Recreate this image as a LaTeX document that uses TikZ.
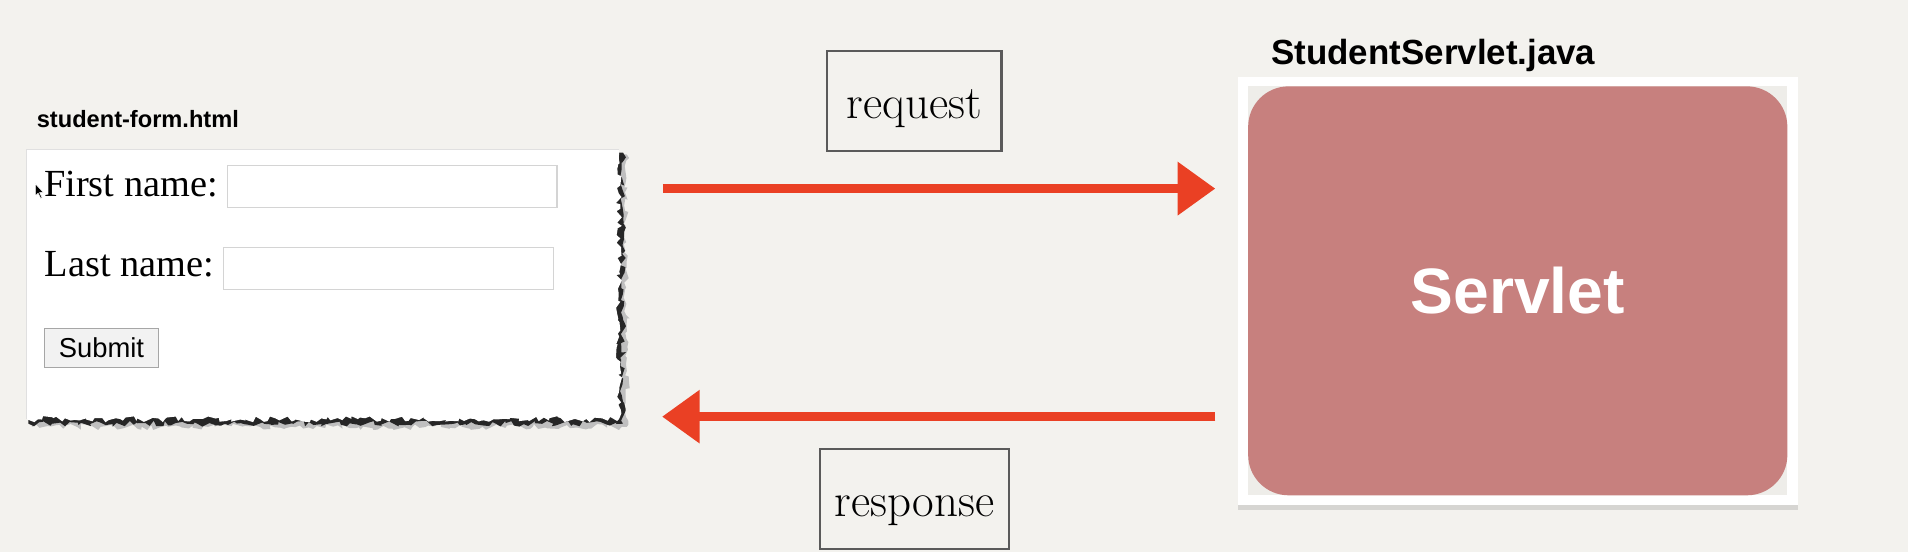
\documentclass[tikz,border=0pt]{standalone}
\usepackage{fontspec}
\usepackage{tikz}
\usetikzlibrary{arrows.meta,positioning,shadows,decorations.pathmorphing}
\newfontfamily\arialfont{Liberation Sans}
\newfontfamily\timesfont{Liberation Serif}
\definecolor{paper}{RGB}{243,242,238}
\definecolor{mat}{RGB}{238,237,233}
\definecolor{rosewood}{RGB}{199,128,126}
\definecolor{crayon}{RGB}{234,64,36}
\definecolor{pencil}{RGB}{90,90,90}
\definecolor{fieldline}{RGB}{212,212,212}

\begin{document}
\begin{tikzpicture}[x=0.025cm,y=-0.025cm,
    tag/.style={anchor=base west,inner sep=0pt,font=\arialfont\bfseries},
    msgbox/.style={draw=pencil,line width=1.2pt,minimum width=#1,minimum height=2.06cm,inner sep=0pt,
      font=\fontsize{27.5}{30}\selectfont,text height=22pt,text depth=2pt},
    formlabel/.style={anchor=base west,inner sep=0pt,font=\timesfont\fontsize{22.4}{26}\selectfont},
    field/.style={draw=fieldline,line width=0.7pt,fill=white,anchor=north west,inner sep=0pt,
      minimum width=6.77cm,minimum height=0.86cm},
    flow/.style={draw=crayon,line width=5.2pt,-{Triangle[length=22pt,width=30pt]}},
    tear/.style={decoration={random steps,segment length=2.5pt,amplitude=1.8pt}}]
    \path[use as bounding box,fill=paper] (0,0) rectangle (1568,454);

    % the html form, torn on two sides
    \node[anchor=north west,inner sep=0pt,minimum width=12.15cm,minimum height=5.53cm] (form) at (22,122.7) {};
    \pgfmathsetseed{4}
    \fill[black!25] ([yshift=-3pt]form.north west) -- ([xshift=4.5pt,yshift=-3pt]form.north east)
      decorate[tear]{-- ([xshift=4.5pt,yshift=-4.5pt]form.south east) -- ([xshift=3pt,yshift=-4.5pt]form.south west)} -- cycle;
    \fill[black!85] ([yshift=-2pt]form.north west) -- ([xshift=2.4pt,yshift=-2pt]form.north east)
      decorate[tear]{-- ([xshift=2.4pt,yshift=-2.6pt]form.south east) -- ([xshift=1pt,yshift=-2.6pt]form.south west)} -- cycle;
    \fill[white] (form.north west) -- (form.north east)
      decorate[tear]{-- (form.south east) -- (form.south west)} -- cycle;
    \draw[black!12,line width=0.5pt] (form.south west) -- (form.north west) -- (form.north east);
    \node[tag,font=\arialfont\bfseries\fontsize{13.8}{16}\selectfont] (formname) at ([xshift=0.2cm,yshift=0.44cm]form.north west) {student-form.html};

    \node[formlabel] (fname) at (36,161.6) {First name:};
    \node[field] (ffield) at (186.4,135.6) {};
    \node[formlabel] (lname) at (36.5,227.4) {Last name:};
    \node[field] (lfield) at (183.3,202.7) {};
    \node[draw=black!35,fill=black!5,inner sep=0pt,minimum width=2.34cm,minimum height=0.8cm,
      font=\arialfont\fontsize{16}{18}\selectfont] (submit) at (83.4,285.9) {Submit};
    \fill[black,draw=white,line width=0.3pt] (29,151) -- (29,161) -- (31.3,158.8) -- (33.5,163)
      -- (34.6,162.4) -- (32.5,158.3) -- (35.5,158) -- cycle;

    % the servlet
    \node[fill=white,inner sep=0pt,minimum width=11.5cm,minimum height=8.8cm,
      drop shadow={shadow xshift=0pt,shadow yshift=-3pt,opacity=0.25}] (frame) at (1247.3,239) {};
    \node[fill=mat,inner sep=0pt,minimum width=11.075cm,minimum height=8.4cm] (matte) at (frame) {};
    \node[fill=rosewood,rounded corners=0.83cm,inner sep=0pt,minimum width=11.075cm,minimum height=8.4cm,
      text=white,font=\arialfont\bfseries\fontsize{37.5}{40}\selectfont] (servlet) at (frame) {Servlet};
    \node[tag,font=\arialfont\bfseries\fontsize{20.4}{24}\selectfont] (srvname) at ([xshift=0.69cm,yshift=0.24cm]frame.north west) {StudentServlet.java};

    % request and response
    \node[msgbox=3.575cm] (request) at (751.5,83) {request};
    \node[msgbox=3.89cm] (response) at (751.6,410) {response};
    \draw[flow] ([xshift=0.9cm]form.east |- 0,155) -- ([xshift=-0.455cm]frame.west |- 0,155);
    \draw[flow] ([xshift=-0.455cm]frame.west |- 0,342.4) -- ([xshift=0.885cm]form.east |- 0,342.4);
\end{tikzpicture}
\end{document}
